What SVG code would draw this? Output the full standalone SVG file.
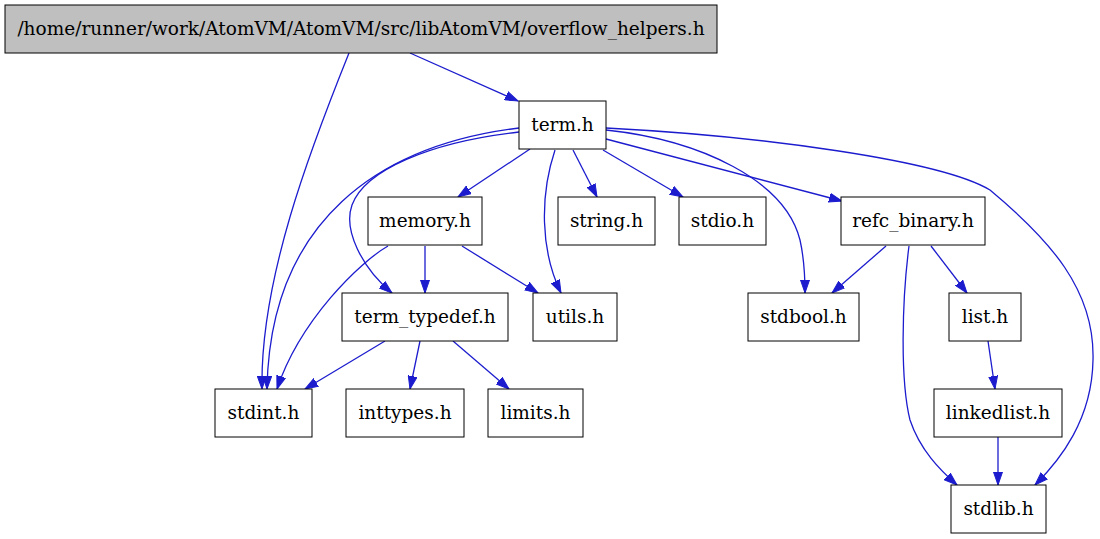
<svg xmlns="http://www.w3.org/2000/svg" width="1100" height="539" viewBox="0 0 1100 539">
<style>
.n rect{fill:#ffffff;stroke:#000000;stroke-width:1}
.n.root rect{fill:#bfbfbf}
.n text{font-family:"DejaVu Serif","Liberation Serif",serif;font-size:18.5px;fill:#000000;text-anchor:middle}
.e path{fill:none;stroke:#1c1cce;stroke-width:1.3;marker-end:url(#ah)}
</style>
<defs>
<marker id="ah" markerUnits="userSpaceOnUse" markerWidth="14" markerHeight="10" refX="13" refY="5" orient="auto">
<path d="M0,0.5 L13,5 L0,9.5 z" fill="#1c1cce" stroke="#1c1cce" stroke-width="1"/>
</marker>
</defs>
<rect width="1100" height="539" fill="#ffffff"/>
<g id="edges" class="e">
<path d="M410,53 L518,101"/>
<path d="M349,53 C310,150 260,280 262,389"/>
<path d="M519,128 C380,145 270,220 267,389"/>
<path d="M519,132 C430,142 365,170 352,205 C343,230 362,268 392,293"/>
<path d="M530,149 L458,197"/>
<path d="M555,150 C540,195 540,250 561,293"/>
<path d="M573,150 L597,197"/>
<path d="M603,150 L683,197"/>
<path d="M606,139 L842,201"/>
<path d="M606,130 C700,140 785,180 800,240 C804,258 805,275 805,293"/>
<path d="M606,128 C760,136 940,160 990,190 C1050,240 1095,290 1093,360 C1092,420 1060,460 1035,485"/>
<path d="M425,246 L425,293"/>
<path d="M462,246 L538,293"/>
<path d="M388,246 C360,262 300,320 277,389"/>
<path d="M886,246 L832,293"/>
<path d="M931,246 L967,293"/>
<path d="M909,246 C902,300 900,380 910,420 C920,450 940,470 957,485"/>
<path d="M988,341 L995,389"/>
<path d="M998,437 L998,485"/>
<path d="M385,341 L305,389"/>
<path d="M420,341 L410,389"/>
<path d="M453,341 L509,389"/>
</g>
<g id="node-root" class="n root"><rect x="5" y="5" width="712" height="48"/><text x="361" y="35">/home/runner/work/AtomVM/AtomVM/src/libAtomVM/overflow_helpers.h</text></g>
<g id="node-term" class="n"><rect x="519" y="101" width="87" height="48"/><text x="562.5" y="131">term.h</text></g>
<g id="node-memory" class="n"><rect x="368" y="197" width="114" height="48"/><text x="425" y="227">memory.h</text></g>
<g id="node-string" class="n"><rect x="558" y="197" width="97" height="48"/><text x="606.5" y="227">string.h</text></g>
<g id="node-stdio" class="n"><rect x="679" y="197" width="87" height="48"/><text x="722.5" y="227">stdio.h</text></g>
<g id="node-refc_binary" class="n"><rect x="841" y="197" width="144" height="48"/><text x="913" y="227">refc_binary.h</text></g>
<g id="node-term_typedef" class="n"><rect x="342" y="293" width="166" height="48"/><text x="425" y="323">term_typedef.h</text></g>
<g id="node-utils" class="n"><rect x="533" y="293" width="84" height="48"/><text x="575" y="323">utils.h</text></g>
<g id="node-stdbool" class="n"><rect x="748" y="293" width="111" height="48"/><text x="803.5" y="323">stdbool.h</text></g>
<g id="node-list" class="n"><rect x="949" y="293" width="72" height="48"/><text x="985" y="323">list.h</text></g>
<g id="node-stdint" class="n"><rect x="215" y="389" width="97" height="48"/><text x="263.5" y="419">stdint.h</text></g>
<g id="node-inttypes" class="n"><rect x="346" y="389" width="118" height="48"/><text x="405" y="419">inttypes.h</text></g>
<g id="node-limits" class="n"><rect x="488" y="389" width="95" height="48"/><text x="535.5" y="419">limits.h</text></g>
<g id="node-linkedlist" class="n"><rect x="934" y="389" width="128" height="48"/><text x="998" y="419">linkedlist.h</text></g>
<g id="node-stdlib" class="n"><rect x="951" y="485" width="95" height="48"/><text x="998.5" y="515">stdlib.h</text></g>
</svg>
